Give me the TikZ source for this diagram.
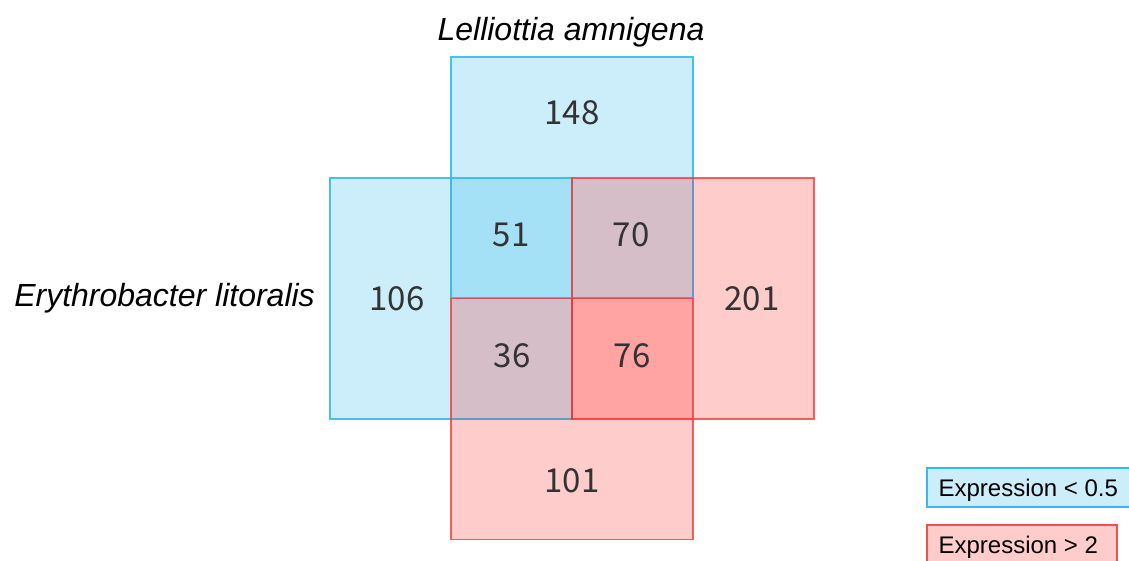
\documentclass[tikz,border=0pt]{standalone}
\usepackage{fontspec}
\setmainfont{Liberation Sans}
\newfontfamily\numfont{Noto Sans CJK JP}
\definecolor{bluebase}{RGB}{38,183,234}
\definecolor{blueedge}{RGB}{51,187,238}
\definecolor{redbase}{RGB}{255,0,0}
\definecolor{rededge}{RGB}{240,60,60}
\definecolor{legblue}{RGB}{204,238,250}
\definecolor{legred}{RGB}{255,204,204}
\tikzset{
  bluebox/.style={draw=blueedge, draw opacity=0.9, fill=bluebase, fill opacity=0.235, line width=1.2pt, minimum width=242pt, minimum height=241pt, inner sep=0pt, outer sep=0pt},
  redbox/.style={draw=rededge, draw opacity=0.8, fill=redbase, fill opacity=0.2, line width=1.2pt, minimum width=242pt, minimum height=241pt, inner sep=0pt, outer sep=0pt},
  num/.style={font=\numfont\fontsize{33}{38}\selectfont, text=black!80, inner sep=0pt},
  species/.style={font=\itshape\fontsize{32}{38}\selectfont, inner sep=0pt},
  legend/.style={font=\fontsize{24}{28}\selectfont, line width=1.2pt, inner sep=0pt, anchor=north west, text depth=0pt}
}
\begin{document}
\begin{tikzpicture}[x=1pt,y=-1pt]
\clip (0,0) rectangle (1129,560);
\fill[white] (0,0) rectangle (1129,560);
% boxes
\node[bluebox] (top) at (572,177.5) {};
\node[bluebox] (left) at (451,298.5) {};
\node[redbox] (right) at (693,298.5) {};
\node[redbox] (bottom) at (572,419) {};
% numbers
\node[num] (n148) at (572,113) {148};
\node[num] (n51) at (511,235) {51};
\node[num] (n70) at (631,235) {70};
\node[num] (n106) at (397,299) {106};
\node[num] (n201) at (752,299) {201};
\node[num] (n36) at (512,356) {36};
\node[num] (n76) at (632,356) {76};
\node[num] (n101) at (572,481) {101};
% species labels
\node[species] (lel) at (571,32) {Lelliottia amnigena};
\node[species, anchor=east] (ery) at (315,298) {Erythrobacter litoralis};
% legend
\draw[draw=blueedge, fill=legblue, line width=1.2pt] (927,468) rectangle (1132,507);
\node[legend, anchor=west] (lb) at (938,488) {Expression < 0.5};
\draw[draw=rededge!90, fill=legred, line width=1.2pt] (927,525) rectangle (1117,566);
\node[legend, anchor=west] (lr) at (938,545) {Expression > 2};
\end{tikzpicture}
\end{document}
